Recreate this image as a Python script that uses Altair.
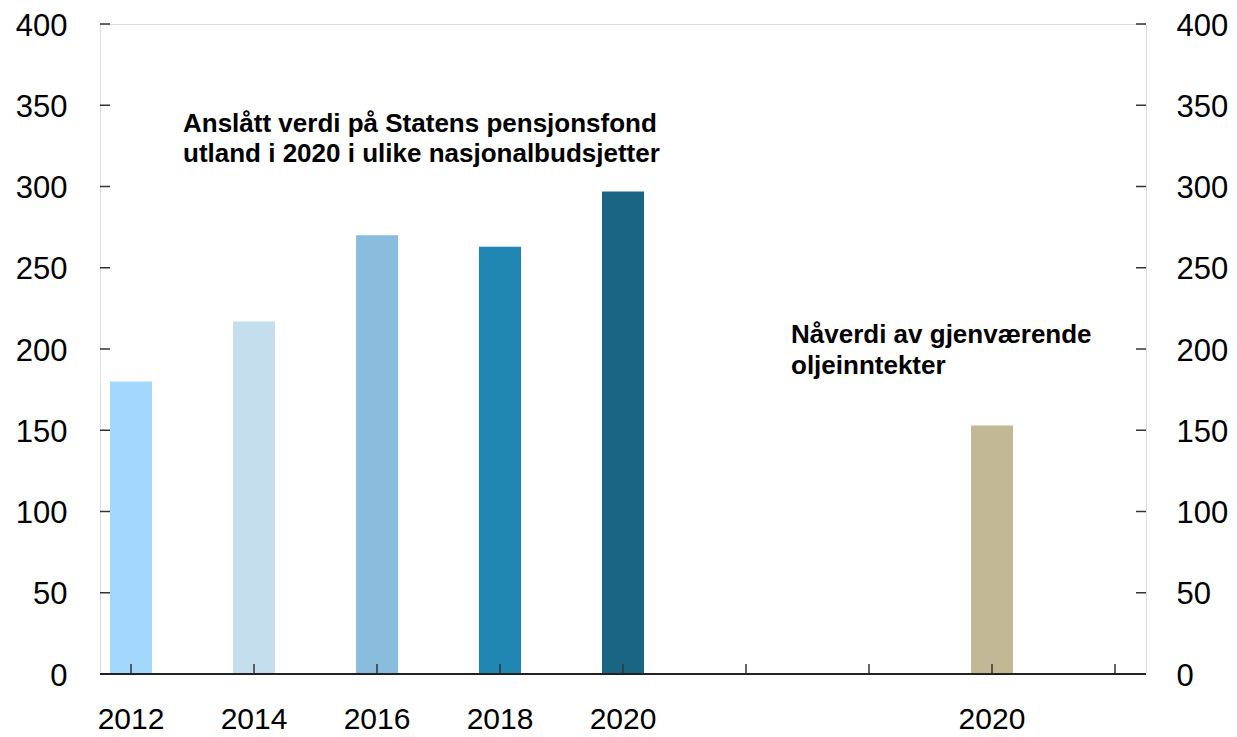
import altair as alt
import pandas as pd

# ---- data ----
slot_keys = ["2012", "2014", "2016", "2018", "2020", "e1", "e2", "2020n", "e3"]
slot_labels = ["2012", "2014", "2016", "2018", "2020", "", "", "2020", ""]
bar_keys = ["2012", "2014", "2016", "2018", "2020", "2020n"]
bar_values = [180, 217, 270, 263, 297, 153]
bar_colors = ["#a3d7fc", "#c5deed", "#8abddd", "#2087b2", "#1b6584", "#c2b895"]
y_ticks = [0, 50, 100, 150, 200, 250, 300, 350, 400]
note_left = ["Anslått verdi på Statens pensjonsfond", "utland i 2020 i ulike nasjonalbudsjetter"]
note_right = ["Nåverdi av gjenværende", "oljeinntekter"]

df = pd.DataFrame({"slot": bar_keys, "value": bar_values, "color": bar_colors})
slots_df = pd.DataFrame({"slot": slot_keys})
yt_df = pd.DataFrame({"v": y_ticks})

W, H = 1046, 650
TICK = 10
FONT = "Liberation Sans"
LFS = 31

expr = "''"
for k, lab in zip(reversed(slot_keys), reversed(slot_labels)):
    expr = f"datum.value == '{k}' ? '{lab}' : ({expr})"

x_scale = alt.Scale(domain=slot_keys, paddingInner=0.6585, paddingOuter=0.0813)
y_scale = alt.Scale(domain=[0, 400], nice=False, zero=True)

x_axis = alt.Axis(
    title=None, orient="bottom", domain=False, grid=False, ticks=False,
    labelAngle=0, labelOverlap=False, labelBaseline="alphabetic", labelPadding=54,
    labelFont=FONT, labelFontSize=30, labelColor="#000", labelExpr=expr,
)

def y_axis(orient, pad):
    return alt.Axis(
        title=None, orient=orient, domain=False, grid=False, ticks=False,
        values=y_ticks, labelPadding=pad, labelFont=FONT, labelFontSize=LFS,
        labelColor="#000", labelOffset=2,
    )

bars = alt.Chart(df).mark_bar().encode(
    x=alt.X("slot:N", scale=x_scale, axis=x_axis, sort=slot_keys),
    y=alt.Y("value:Q", scale=y_scale, axis=y_axis("left", 33)),
    color=alt.Color("color:N", scale=None),
)

right_axis = alt.Chart(df).mark_bar(opacity=0).encode(
    x=alt.X("slot:N", scale=x_scale, sort=slot_keys),
    y=alt.Y("value:Q", scale=y_scale, axis=y_axis("right", 30)),
)

x_ticks = alt.Chart(slots_df).mark_rule(color="#333", strokeWidth=1.5).encode(
    x=alt.X("slot:N", scale=x_scale, sort=slot_keys),
    y=alt.value(H - TICK), y2=alt.value(H),
)

left_ticks = alt.Chart(yt_df).mark_rule(color="#333", strokeWidth=1.5).encode(
    y=alt.Y("v:Q", scale=y_scale, axis=None), x=alt.value(0), x2=alt.value(TICK),
)

right_ticks = alt.Chart(yt_df).mark_rule(color="#333", strokeWidth=1.5).encode(
    y=alt.Y("v:Q", scale=y_scale, axis=None), x=alt.value(W - TICK), x2=alt.value(W),
)

base_line = alt.Chart(pd.DataFrame({"v": [0]})).mark_rule(color="#222", strokeWidth=2).encode(
    y=alt.Y("v:Q", scale=y_scale, axis=None),
)

text_left = alt.Chart(pd.DataFrame({"t": [note_left]})).mark_text(
    align="left", baseline="alphabetic", font=FONT, fontSize=26, fontWeight="bold",
    lineHeight=30, color="#000",
).encode(x=alt.value(83), y=alt.value(108), text="t")

text_right = alt.Chart(pd.DataFrame({"t": [note_right]})).mark_text(
    align="left", baseline="alphabetic", font=FONT, fontSize=26, fontWeight="bold",
    lineHeight=30.5, color="#000",
).encode(x=alt.value(691), y=alt.value(319), text="t")

chart = (
    alt.layer(bars, right_axis, x_ticks, left_ticks, right_ticks, base_line, text_left, text_right)
    .resolve_axis(y="independent")
    .properties(
        width=W, height=H,
        autosize=alt.AutoSizeParams(type="none"),
        padding={"left": 92, "top": 16, "right": 83, "bottom": 62},
    )
    .configure_view(stroke="#666", strokeWidth=2)
    .configure(background="white")
)

chart.save("out.html", embed_options={"renderer": "svg", "actions": False})
